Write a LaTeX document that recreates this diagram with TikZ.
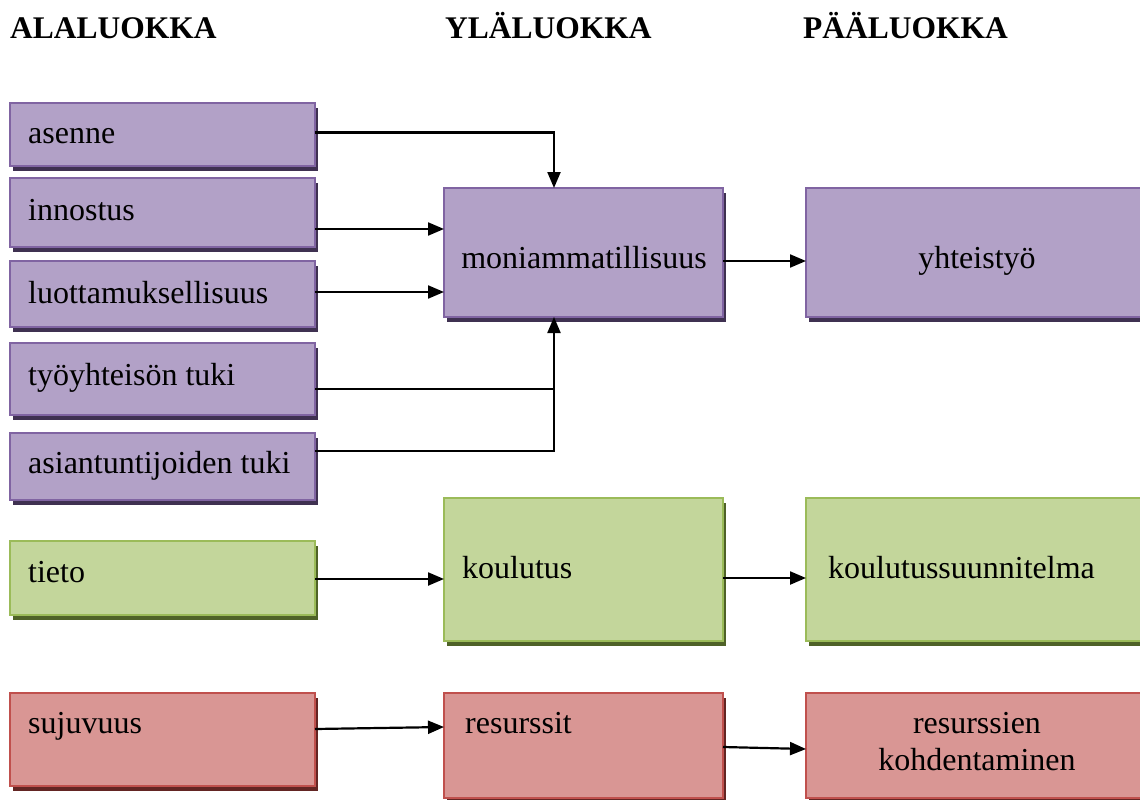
\documentclass[tikz,border=0pt]{standalone}
\usepackage{fontspec}
\setmainfont{Liberation Serif}
\usetikzlibrary{calc,shadows,arrows.meta}

% Box colours: fill, border and shadow for each group
\definecolor{pfill}{HTML}{B2A1C7}
\definecolor{pline}{HTML}{8064A2}
\definecolor{pshad}{HTML}{3F3151}
\definecolor{gfill}{HTML}{C3D69B}
\definecolor{gline}{HTML}{9BBB59}
\definecolor{gshad}{HTML}{4F6228}
\definecolor{rfill}{HTML}{D99694}
\definecolor{rline}{HTML}{C0504D}
\definecolor{rshad}{HTML}{632523}

\tikzset{
  catbox/.style={rectangle, inner sep=0pt, outer sep=0pt, anchor=north west,
    line width=2pt},
  purplebox/.style={catbox, draw=pline, fill=pfill,
    drop shadow={shadow xshift=3pt, shadow yshift=-5pt, fill=pshad, opacity=1}},
  greenbox/.style={catbox, draw=gline, fill=gfill,
    drop shadow={shadow xshift=3pt, shadow yshift=-5pt, fill=gshad, opacity=1}},
  redbox/.style={catbox, draw=rline, fill=rfill,
    drop shadow={shadow xshift=3pt, shadow yshift=-5pt, fill=rshad, opacity=1}},
  lbl/.style={inner sep=0pt, font=\fontsize{32}{38}\selectfont},
  head/.style={inner sep=0pt, anchor=base west, font=\fontsize{31.5}{38}\selectfont\bfseries},
  arr/.style={line width=2.2pt, -{Triangle[length=16pt,width=13pt]}},
  conn/.style={line width=2.2pt},
}

% \catnode{style}{name}{x0}{y0}{x1}{y1}
\newcommand\catnode[6]{%
  \node[#1, minimum width=#5pt-#3pt, minimum height=#6pt-#4pt] (#2) at (#3,#4) {};}

\begin{document}
\begin{tikzpicture}[x=1pt,y=-1pt]
\useasboundingbox (0,0) rectangle (1140,800);

% column headings
\node[head] (h1) at (10,38) {ALALUOKKA};
\node[head] (h2) at (445,38) {YLÄLUOKKA};
\node[head] (h3) at (803,38) {PÄÄLUOKKA};

% left column
\catnode{purplebox}{asenne}{10}{103}{315}{166}
\catnode{purplebox}{innostus}{10}{178}{315}{247}
\catnode{purplebox}{luott}{10}{261}{315}{327}
\catnode{purplebox}{tyo}{10}{343}{315}{415}
\catnode{purplebox}{asiant}{10}{433}{315}{500}
\catnode{greenbox}{tieto}{10}{541}{315}{615}
\catnode{redbox}{sujuvuus}{10}{693}{315}{786}

% middle column
\catnode{purplebox}{moni}{444}{188}{723}{317}
\catnode{greenbox}{koulutus}{444}{498}{723}{641}
\catnode{redbox}{resurssit}{444}{693}{723}{798}

% right column
\catnode{purplebox}{yhteistyo}{806}{188}{1146}{317}
\catnode{greenbox}{ksuun}{806}{498}{1146}{641}
\catnode{redbox}{kohdent}{806}{693}{1146}{798}

% texts
\node[lbl, anchor=base west] (t-asenne) at (28,143) {asenne};
\node[lbl, anchor=base west] (t-innostus) at (28,220) {innostus};
\node[lbl, anchor=base west] (t-luott) at (28,303) {luottamuksellisuus};
\node[lbl, anchor=base west] (t-tyo) at (28,385) {työyhteisön tuki};
\node[lbl, anchor=base west] (t-asiant) at (28,473) {asiantuntijoiden tuki};
\node[lbl, anchor=base west] (t-tieto) at (28,582) {tieto};
\node[lbl, anchor=base west] (t-sujuvuus) at (28,733) {sujuvuus};
\node[lbl, anchor=base] (t-moni) at (584,268) {moniammatillisuus};
\node[lbl, anchor=base west] (t-koulutus) at (462,578) {koulutus};
\node[lbl, anchor=base west] (t-resurssit) at (465,733) {resurssit};
\node[lbl, anchor=base] (t-yhteistyo) at (977,268) {yhteistyö};
\node[lbl, anchor=base west] (t-ksuun) at (828,578) {koulutussuunnitelma};
\node[lbl, anchor=base] (t-kohdent1) at (977,733) {resurssien};
\node[lbl, anchor=base] (t-kohdent2) at (977,770) {kohdentaminen};

% connectors into moniammatillisuus
\coordinate (mtop) at ($(moni.north west)+(110,0)$);
\coordinate (mbot) at ($(moni.south west)+(110,0)$);
\draw[arr] ($(asenne.east)+(0,-2)$) -| (mtop);
\draw[arr] ($(innostus.south east)+(0,-18)$) coordinate (c1) -- (c1 -| moni.west);
\draw[arr] ($(luott.south east)+(0,-35)$) coordinate (c2) -- (c2 -| moni.west);
\draw[conn] ($(tyo.south east)+(0,-26)$) coordinate (c3) -- (c3 -| mbot);
\draw[arr] ($(asiant.south east)+(0,-49)$) -| (mbot);

% connectors towards the main categories
\draw[arr] ($(moni.north east)+(0,73)$) coordinate (c4) -- (c4 -| yhteistyo.west);
\draw[arr] ($(tieto.north east)+(0,38)$) coordinate (c5) -- (c5 -| koulutus.west);
\draw[arr] ($(koulutus.north east)+(0,80)$) coordinate (c6) -- (c6 -| ksuun.west);
\draw[arr] ($(sujuvuus.north east)+(0,36)$) -- ($(resurssit.north west)+(0,34)$);
\draw[arr] ($(resurssit.north east)+(0,54)$) -- ($(kohdent.north west)+(0,56)$);
\end{tikzpicture}
\end{document}
